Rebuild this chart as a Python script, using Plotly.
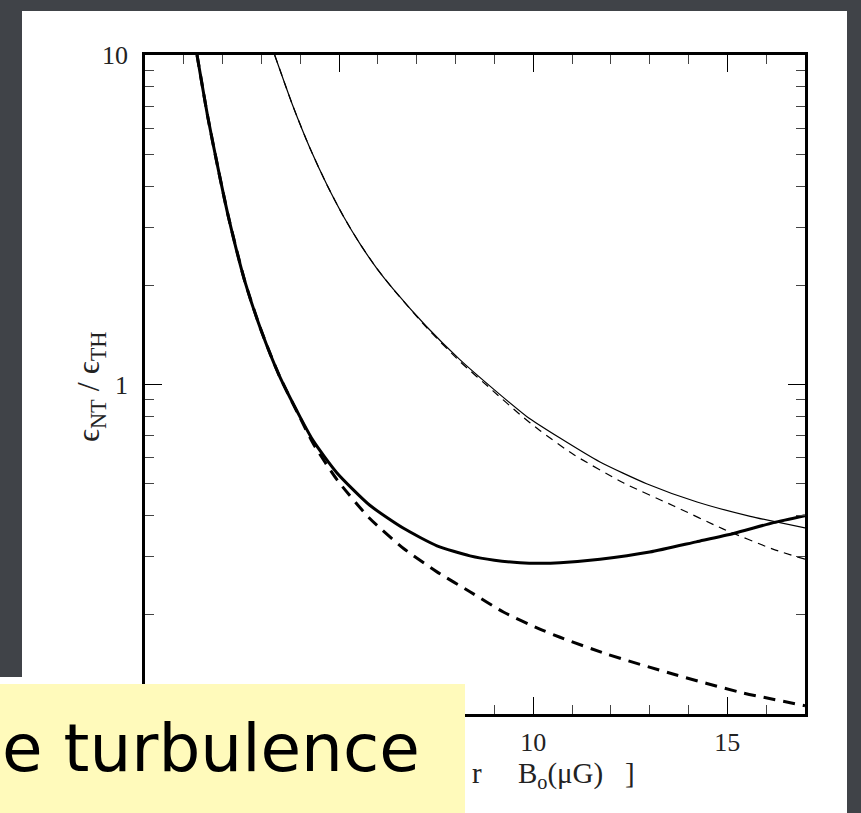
import plotly.graph_objects as go

W, H = 861, 813

# ---- data ----
thick_solid_x = [1.34, 1.62, 1.89, 2.14, 2.57, 3.0, 3.45, 4.0, 4.34, 4.94, 5.79, 6.66, 7.52, 8.37, 9.0, 9.66, 10.17, 10.69, 11.72, 13.0, 14.2, 15.16, 16.19, 17.0]
thick_solid_y = [10, 6.46, 4.48, 3.26, 2.06, 1.45, 1.07, 0.795, 0.673, 0.54, 0.43, 0.366, 0.324, 0.302, 0.293, 0.288, 0.287, 0.288, 0.295, 0.31, 0.333, 0.353, 0.381, 0.40]

thick_dash_x = [1.34, 1.62, 1.89, 2.14, 2.57, 3.0, 3.45, 4.0, 4.34, 4.94, 5.79, 6.66, 7.52, 8.37, 9.23, 10.17, 10.69, 11.89, 13.62, 15.33, 17.0]
thick_dash_y = [10, 6.46, 4.48, 3.26, 2.06, 1.45, 1.07, 0.79, 0.66, 0.515, 0.392, 0.318, 0.270, 0.235, 0.204, 0.181, 0.171, 0.152, 0.132, 0.1164, 0.106]

thin_solid_x = [3.34, 3.82, 4.25, 4.68, 5.11, 5.53, 5.96, 6.39, 7.25, 8.11, 8.97, 9.83, 10.69, 11.72, 12.92, 14.22, 15.59, 17.0]
thin_solid_y = [10, 6.95, 5.21, 4.05, 3.24, 2.68, 2.26, 1.95, 1.50, 1.19, 0.97, 0.80, 0.688, 0.582, 0.50, 0.44, 0.398, 0.367]

thin_dash_x = [3.34, 3.82, 4.25, 4.68, 5.11, 5.53, 5.96, 6.39, 7.25, 8.11, 8.97, 9.66, 10.17, 11.03, 12.32, 13.62, 14.9, 16.19, 17.0]
thin_dash_y = [10, 6.95, 5.21, 4.05, 3.24, 2.68, 2.26, 1.95, 1.49, 1.175, 0.955, 0.81, 0.725, 0.614, 0.503, 0.428, 0.364, 0.316, 0.295]

x_tick_vals = [5, 10, 15]
x_tick_text = ["5", "10", "15"]
y_tick_vals = [0.1, 1, 10]
y_tick_text = ["0.1", "1", "10"]
y_minor_vals = [0.2, 0.3, 0.4, 0.5, 0.6, 0.7, 0.8, 0.9, 2, 3, 4, 5, 6, 7, 8, 9]

NB = "\u00a0"
y_title = "ϵ<sub>NT</sub> / ϵ<sub>TH</sub>"
x_title_visible = "r" + NB * 5 + "B<sub>o</sub>(μG)" + NB * 3 + "]"
overlay_text = "e turbulence"

SERIF = "Liberation Serif, DejaVu Serif, serif"

fig = go.Figure()
fig.add_trace(go.Scatter(x=thick_solid_x, y=thick_solid_y, mode="lines",
                         line=dict(color="black", width=3, shape="spline", smoothing=0.6)))
fig.add_trace(go.Scatter(x=thick_dash_x, y=thick_dash_y, mode="lines",
                         line=dict(color="black", width=3, dash="12px,8px", shape="spline", smoothing=0.6)))
fig.add_trace(go.Scatter(x=thin_solid_x, y=thin_solid_y, mode="lines",
                         line=dict(color="black", width=1.2, shape="spline", smoothing=0.6)))
fig.add_trace(go.Scatter(x=thin_dash_x, y=thin_dash_y, mode="lines",
                         line=dict(color="black", width=1.2, dash="8px,6px", shape="spline", smoothing=0.6)))

axis_common = dict(showline=True, linecolor="black", linewidth=2.5, mirror="ticks",
                   ticks="inside", ticklen=17, tickwidth=1.2, tickcolor="black",
                   showgrid=False, zeroline=False, automargin=False,
                   tickfont=dict(family=SERIF, size=26, color="#222"))

fig.update_layout(
    width=W, height=H,
    autosize=False,
    margin=dict(l=0, r=0, t=0, b=0, pad=0),
    paper_bgcolor="#404348",
    plot_bgcolor="white",
    showlegend=False,
    xaxis=dict(domain=[145 / W, 805 / W], range=[0, 17],
               tickmode="array", tickvals=x_tick_vals, ticktext=x_tick_text,
               ticklabelstandoff=3,
               minor=dict(dtick=1, tick0=0, ticks="inside", ticklen=9, tickwidth=1.2, tickcolor="#444", showgrid=False),
               **axis_common),
    yaxis=dict(domain=[1 - 714 / H, 1 - 55 / H], type="log", range=[-1, 1],
               tickmode="array", tickvals=y_tick_vals, ticktext=y_tick_text,
               ticklabelstandoff=9,
               minor=dict(tickmode="array", tickvals=y_minor_vals, ticks="inside", ticklen=9, tickwidth=1.2, tickcolor="#444", showgrid=False),
               **axis_common),
    shapes=[
        dict(type="rect", xref="paper", yref="paper", layer="below",
             x0=22 / W, x1=847 / W, y0=-0.05, y1=1 - 11 / H,
             fillcolor="white", line=dict(width=0)),
        dict(type="rect", xref="paper", yref="paper", layer="below",
             x0=-0.01, x1=22 / W, y0=-0.05, y1=1 - 677 / H,
             fillcolor="white", line=dict(width=0)),
        dict(type="rect", xref="paper", yref="paper", layer="above",
             x0=-0.01, x1=465 / W, y0=-0.05, y1=1 - 684 / H,
             fillcolor="#FFFABB", line=dict(width=0)),
    ],
    annotations=[
        dict(text=y_title, xref="paper", yref="paper", x=90 / W, y=1 - 387 / H,
             textangle=-90, showarrow=False, xanchor="center", yanchor="middle",
             font=dict(family=SERIF, size=32, color="#222")),
        dict(text=x_title_visible, xref="paper", yref="paper", x=470 / W, y=1 - 775 / H,
             showarrow=False, xanchor="left", yanchor="middle",
             font=dict(family=SERIF, size=29, color="#222")),
        dict(text=overlay_text, xref="paper", yref="paper", x=422 / W, y=1 - 748 / H,
             showarrow=False, xanchor="right", yanchor="middle",
             font=dict(family="DejaVu Sans, sans-serif", size=66, color="black")),
    ],
)

fig.write_html("out.html")
